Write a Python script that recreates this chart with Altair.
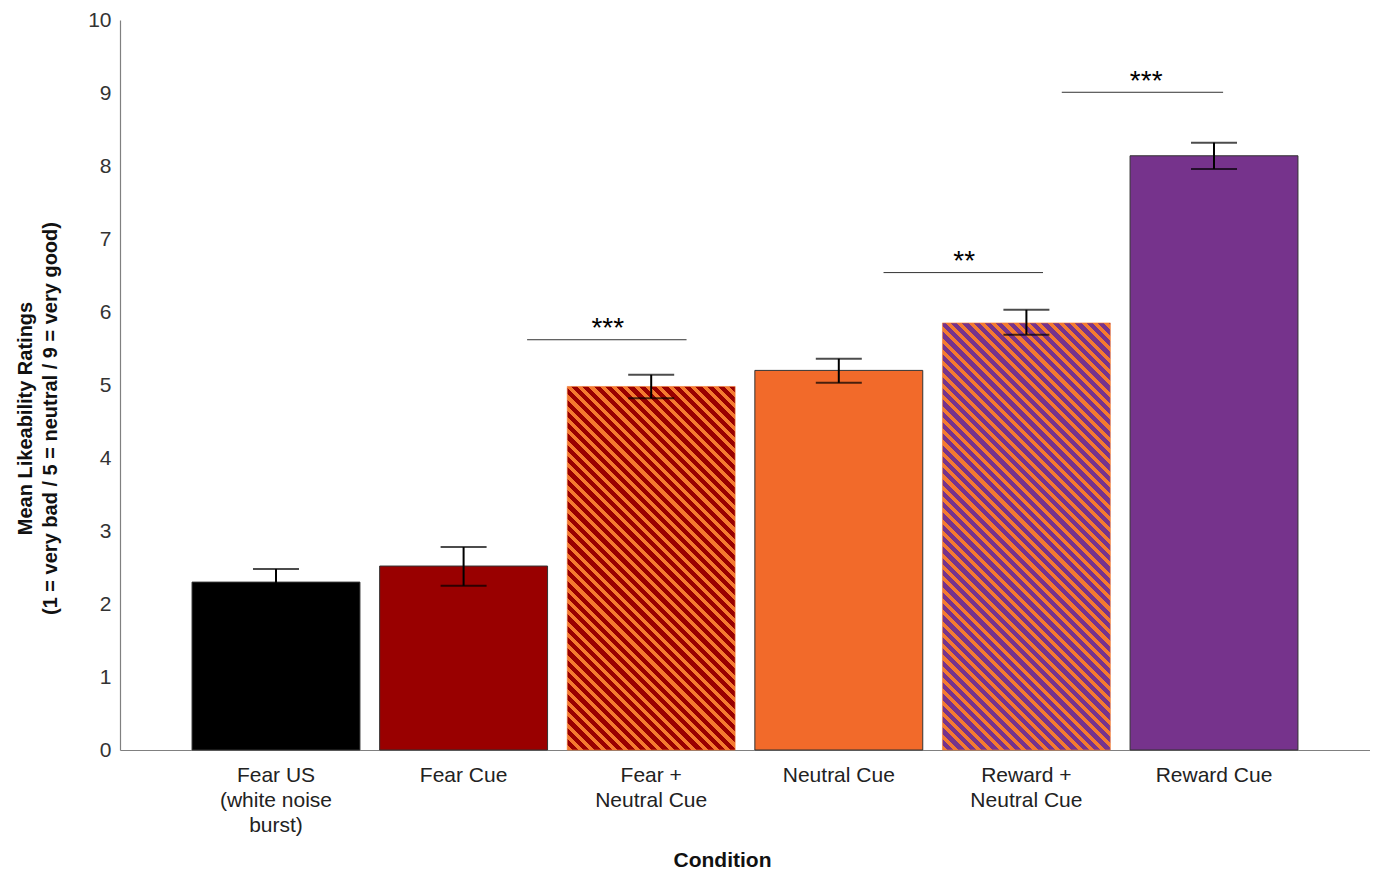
import math
import altair as alt
import pandas as pd

# ---------------- data ----------------
categories = ["Fear US|(white noise|burst)", "Fear Cue", "Fear +|Neutral Cue",
              "Neutral Cue", "Reward +|Neutral Cue", "Reward Cue"]
means = [2.30, 2.52, 4.98, 5.20, 5.85, 8.14]
err_low = [2.12, 2.25, 4.82, 5.03, 5.69, 7.96]
err_high = [2.48, 2.78, 5.14, 5.36, 6.03, 8.32]
kinds = ["solid", "solid", "hatch", "solid", "hatch", "solid"]
fills = ["#000000", "#990000", "#990000", "#F26A2A", "#76338C", "#76338C"]
stripe_colors = ["", "", "#F47A30", "", "#F47A30", ""]

# significance annotations (x in band units from axis origin)
sig_x1 = [2.17, 4.07, 5.02]
sig_x2 = [3.02, 4.92, 5.88]
sig_y = [5.62, 6.54, 9.01]
sig_text = ["***", "**", "***"]
sig_text_x = [2.60, 4.50, 5.47]
sig_text_y = [5.64, 6.56, 9.03]

# ---------------- style ----------------
PLOT_W = 1250
PLOT_H = 730
P_INNER = 0.105
P_OUTER = 0.384
N_BANDS = len(categories)
STEP = PLOT_W / (N_BANDS - P_INNER + 2 * P_OUTER)
BAR_W = STEP * (1 - P_INNER)
X_SPAN = N_BANDS - P_INNER + 2 * P_OUTER
PERIOD = 8.0     # perpendicular stripe period in px
FRAC = 0.45      # stripe fraction
FONT = "Liberation Sans"

df = pd.DataFrame({
    "cond": categories, "mean": means, "lo": err_low, "hi": err_high,
    "kind": kinds, "fill": fills,
})
sig = pd.DataFrame({"x1": sig_x1, "x2": sig_x2, "y": sig_y})
sig_t = pd.DataFrame({"x": sig_text_x, "y": sig_text_y, "t": sig_text})


def stripes(base, stripe, value):
    w = BAR_W
    h = value / 10.0 * PLOT_H
    r = h / w
    s = (1 + r) / (1 + r * r)
    n = (w + h) / (math.sqrt(2) * PERIOD)
    stops = []
    k = 0
    while k / n < 1:
        a = k / n
        b = min((k + FRAC) / n, 1.0)
        c = min((k + 1) / n, 1.0)
        stops += [alt.GradientStop(offset=a, color=stripe),
                  alt.GradientStop(offset=b, color=stripe),
                  alt.GradientStop(offset=b, color=base),
                  alt.GradientStop(offset=c, color=base)]
        k += 1
    return alt.LinearGradient(gradient="linear", stops=stops,
                              x1=0, y1=1, x2=s, y2=1 - s * r)


xenc = alt.X("cond:N", sort=categories,
             scale=alt.Scale(domain=categories, paddingInner=P_INNER, paddingOuter=P_OUTER),
             axis=alt.Axis(title="Condition", labelExpr="split(datum.label, '|')",
                           labelAngle=0, labelFontSize=21, labelFont=FONT, labelColor="#222222",
                           labelLineHeight=25, labelPadding=14, ticks=False,
                           domainColor="#808080", domainWidth=1.2,
                           titleFont=FONT, titleFontSize=21, titleFontWeight="bold",
                           titleColor="#111111", titleX=602, titleY=110,
                           titleBaseline="middle", titleAlign="center"))
yscale = alt.Scale(domain=[0, 10], nice=False, zero=True)
yenc = alt.Y("mean:Q", scale=yscale,
             axis=alt.Axis(title=["Mean Likeability Ratings",
                                  "(1 = very bad / 5 = neutral / 9 = very good)"],
                           values=list(range(11)), format="d", grid=False, ticks=False,
                           labelFontSize=21, labelFont=FONT, labelColor="#333333",
                           labelPadding=9, domainColor="#808080", domainWidth=1.2,
                           titleFont=FONT,
                           titleFontSize=20, titleFontWeight="bold", titleColor="#111111",
                           titleLineHeight=25, titleX=-95, titleY=398,
                           titleBaseline="middle", titleAlign="center", titleAngle=-90))

base = alt.Chart(df)
solid = base.transform_filter("datum.kind == 'solid'").mark_bar(
    stroke="#333333", strokeWidth=1).encode(
    x=xenc, y=yenc, fill=alt.Fill("fill:N", scale=None))

hatch_layers = []
for i, k in enumerate(kinds):
    if k != "hatch":
        continue
    g = stripes(fills[i], stripe_colors[i], means[i])
    hatch_layers.append(
        base.transform_filter(alt.datum.cond == categories[i]).mark_bar(
            fill=g, stroke=stripe_colors[i], strokeWidth=1, strokeOpacity=0.6).encode(
            x=xenc, y=yenc))

err_rule = base.mark_rule(color="black", strokeWidth=2).encode(
    x=xenc, y=alt.Y("lo:Q", scale=yscale), y2="hi:Q")
cap_lo = base.mark_tick(color="black", thickness=2, size=46).encode(
    x=xenc, y=alt.Y("lo:Q", scale=yscale))
cap_hi = base.mark_tick(color="black", thickness=2, size=46).encode(
    x=xenc, y=alt.Y("hi:Q", scale=yscale))

bars = alt.layer(solid, *hatch_layers, err_rule, cap_lo, cap_hi)

xq = alt.Scale(domain=[0, X_SPAN], nice=False, zero=False)
sig_lines = alt.Chart(sig).mark_rule(color="#333333", strokeWidth=1).encode(
    x=alt.X("x1:Q", scale=xq, axis=None), x2="x2:Q",
    y=alt.Y("y:Q", scale=yscale))
sig_txt = alt.Chart(sig_t).mark_text(font=FONT, fontSize=28,
                                     color="black", baseline="alphabetic", dy=-1).encode(
    x=alt.X("x:Q", scale=xq, axis=None), y=alt.Y("y:Q", scale=yscale), text="t:N")
annot = alt.layer(sig_lines, sig_txt)

chart = alt.layer(bars, annot).resolve_scale(x="independent").properties(
    width=PLOT_W, height=PLOT_H,
    background="white",
    autosize=alt.AutoSizeParams(type="none"),
    padding={"left": 112, "top": 12, "right": 0, "bottom": 120},
).configure_view(stroke=None)

chart.save("out.html", embed_options={"renderer": "svg", "actions": False})
